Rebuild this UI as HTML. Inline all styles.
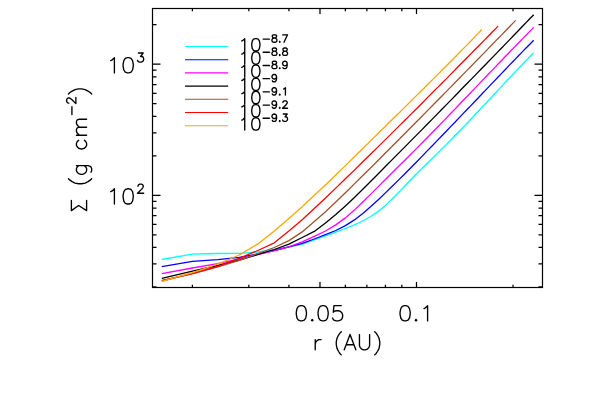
<!DOCTYPE html>
<html><head><meta charset="utf-8"><title>Surface density</title>
<style>html,body{margin:0;padding:0;background:#fff;font-family:"Liberation Sans",sans-serif}svg{display:block}</style>
</head><body>
<svg width="598" height="402" viewBox="0 0 598 402">
<rect x="0" y="0" width="598" height="402" fill="#fff"/>
<path d="M161.8 259.5 L192.4 254.2 L217.8 253.5 L239.3 253.3 L257.9 252.0 L274.3 249.5 L288.9 246.9 L302.2 244.4 L314.3 240.0 L325.5 236.0 L335.8 232.1 L345.4 228.5 L354.4 224.9 L362.8 221.0 L370.8 216.5 L378.3 211.4 L385.4 205.4 L392.2 199.0 L398.7 192.4 L404.9 185.9 L410.8 179.7 L416.5 173.8 L422.0 168.4 L427.2 163.3 L432.3 158.4 L437.2 153.6 L441.9 148.9 L446.5 144.4 L450.9 139.9 L455.2 135.5 L459.3 131.3 L463.3 127.1 L467.3 123.0 L471.1 119.0 L474.8 115.0 L478.4 111.2 L481.9 107.5 L485.4 103.8 L488.7 100.2 L492.0 96.7 L495.2 93.2 L498.3 89.9 L501.4 86.6 L504.4 83.4 L507.3 80.3 L510.2 77.3 L513.0 74.3 L515.8 71.4 L518.5 68.5 L521.1 65.8 L523.7 63.0 L526.3 60.4 L528.8 57.8 L531.3 55.3 L533.7 52.9" fill="none" stroke="#00ffff" stroke-width="1.30" stroke-linejoin="round"/>
<path d="M161.8 266.7 L192.4 261.3 L217.8 259.7 L239.3 257.4 L257.9 254.0 L274.3 250.5 L288.9 246.8 L302.2 243.4 L314.3 239.0 L325.5 234.7 L335.8 230.5 L345.4 225.6 L354.4 219.9 L362.8 213.4 L370.8 206.6 L378.3 199.7 L385.4 192.9 L392.2 186.3 L398.7 179.9 L404.9 173.7 L410.8 167.8 L416.5 162.0 L422.0 156.4 L427.2 150.9 L432.3 145.7 L437.2 140.6 L441.9 135.7 L446.5 131.0 L450.9 126.4 L455.2 122.0 L459.3 117.6 L463.3 113.4 L467.3 109.3 L471.1 105.4 L474.8 101.5 L478.4 97.7 L481.9 94.0 L485.4 90.4 L488.7 86.9 L492.0 83.4 L495.2 80.1 L498.3 76.8 L501.4 73.6 L504.4 70.5 L507.3 67.4 L510.2 64.4 L513.0 61.5 L515.8 58.6 L518.5 55.8 L521.1 53.1 L523.7 50.4 L526.3 47.8 L528.8 45.2 L531.3 42.7 L533.7 40.2" fill="none" stroke="#0000ff" stroke-width="1.30" stroke-linejoin="round"/>
<path d="M161.8 273.6 L192.4 268.0 L217.8 263.6 L239.3 258.9 L257.9 254.6 L274.3 250.6 L288.9 246.9 L302.2 241.9 L314.3 236.4 L325.5 231.0 L335.8 224.9 L345.4 217.9 L354.4 210.1 L362.8 202.0 L370.8 194.1 L378.3 186.6 L385.4 179.5 L392.2 172.8 L398.7 166.3 L404.9 160.2 L410.8 154.3 L416.5 148.6 L422.0 143.0 L427.2 137.7 L432.3 132.5 L437.2 127.5 L441.9 122.6 L446.5 117.9 L450.9 113.3 L455.2 108.9 L459.3 104.5 L463.3 100.3 L467.3 96.3 L471.1 92.3 L474.8 88.4 L478.4 84.6 L481.9 80.9 L485.4 77.3 L488.7 73.8 L492.0 70.4 L495.2 67.1 L498.3 63.8 L501.4 60.7 L504.4 57.5 L507.3 54.5 L510.2 51.5 L513.0 48.6 L515.8 45.8 L518.5 43.0 L521.1 40.2 L523.7 37.6 L526.3 35.0 L528.8 32.4 L531.3 29.9 L533.7 27.4" fill="none" stroke="#ff00ff" stroke-width="1.30" stroke-linejoin="round"/>
<path d="M161.8 278.4 L192.4 271.1 L217.8 265.5 L239.3 260.2 L257.9 254.5 L274.3 249.5 L288.9 244.1 L302.2 237.5 L314.3 231.4 L325.5 223.0 L335.8 214.6 L345.4 206.0 L354.4 197.5 L362.8 189.2 L370.8 181.3 L378.3 173.7 L385.4 166.5 L392.2 159.6 L398.7 153.1 L404.9 146.9 L410.8 140.9 L416.5 135.1 L422.0 129.6 L427.2 124.2 L432.3 119.1 L437.2 114.1 L441.9 109.3 L446.5 104.6 L450.9 100.1 L455.2 95.7 L459.3 91.5 L463.3 87.3 L467.3 83.3 L471.1 79.4 L474.8 75.6 L478.4 71.9 L481.9 68.3 L485.4 64.7 L488.7 61.3 L492.0 57.9 L495.2 54.6 L498.3 51.4 L501.4 48.2 L504.4 45.1 L507.3 42.1 L510.2 39.1 L513.0 36.2 L515.8 33.3 L518.5 30.5 L521.1 27.7 L523.7 25.0 L526.3 22.4 L528.8 19.8 L531.3 17.2 L533.7 14.7" fill="none" stroke="#000000" stroke-width="1.30" stroke-linejoin="round"/>
<path d="M161.8 280.3 L192.4 273.8 L217.8 266.9 L239.3 260.3 L257.9 253.5 L274.3 247.5 L288.9 240.6 L302.2 231.9 L314.3 221.6 L325.5 211.8 L335.8 202.0 L345.4 192.7 L354.4 183.9 L362.8 175.5 L370.8 167.7 L378.3 160.2 L385.4 153.0 L392.2 146.2 L398.7 139.7 L404.9 133.5 L410.8 127.5 L416.5 121.8 L422.0 116.3 L427.2 110.9 L432.3 105.8 L437.2 100.8 L441.9 96.0 L446.5 91.4 L450.9 86.9 L455.2 82.5 L459.3 78.3 L463.3 74.1 L467.3 70.1 L471.1 66.2 L474.8 62.4 L478.4 58.7 L481.9 55.1 L485.4 51.6 L488.7 48.1 L492.0 44.7 L495.2 41.4 L498.3 38.2 L501.4 35.1 L504.4 32.0 L507.3 29.0 L510.2 26.0 L513.0 23.1 L515.7 20.4" fill="none" stroke="#a0522d" stroke-width="1.30" stroke-linejoin="round"/>
<path d="M161.8 281.0 L192.4 273.4 L217.8 266.3 L239.3 258.3 L257.9 250.5 L274.3 242.8 L288.9 231.1 L302.2 219.7 L314.3 208.6 L325.5 198.0 L335.8 188.1 L345.4 178.8 L354.4 170.1 L362.8 161.8 L370.8 154.0 L378.3 146.6 L385.4 139.6 L392.2 132.9 L398.7 126.4 L404.9 120.3 L410.8 114.4 L416.5 108.7 L422.0 103.2 L427.2 97.9 L432.3 92.8 L437.2 87.9 L441.9 83.2 L446.5 78.6 L450.9 74.1 L455.2 69.8 L459.3 65.5 L463.3 61.5 L467.3 57.5 L471.1 53.6 L474.8 49.8 L478.4 46.2 L481.9 42.6 L485.4 39.1 L488.7 35.7 L492.0 32.3 L495.2 29.1 L498.1 26.1" fill="none" stroke="#ff0000" stroke-width="1.30" stroke-linejoin="round"/>
<path d="M161.8 281.4 L192.4 272.7 L217.8 264.2 L239.3 255.0 L257.9 243.9 L274.3 231.0 L288.9 218.5 L302.2 206.7 L314.3 195.2 L325.5 184.9 L335.8 175.0 L345.4 165.6 L354.4 156.8 L362.8 148.5 L370.8 140.6 L378.3 133.2 L385.4 126.2 L392.2 119.5 L398.7 113.2 L404.9 107.1 L410.8 101.2 L416.5 95.6 L422.0 90.2 L427.2 85.0 L432.3 79.9 L437.2 75.1 L441.9 70.3 L446.5 65.7 L450.9 61.3 L455.2 57.0 L459.3 52.7 L463.3 48.6 L467.3 44.6 L471.1 40.7 L474.8 36.9 L478.4 33.1 L481.9 29.5" fill="none" stroke="#ffa500" stroke-width="1.30" stroke-linejoin="round"/>
<rect x="152.5" y="8.5" width="390.0" height="279.0" fill="none" stroke="#000" stroke-width="1.20"/>
<path d="M192.41 287.50V284.70 M192.41 8.50V11.30 M248.87 287.50V284.70 M248.87 8.50V11.30 M288.92 287.50V284.70 M288.92 8.50V11.30 M319.99 287.50V281.90 M319.99 8.50V14.10 M345.38 287.50V284.70 M345.38 8.50V11.30 M366.84 287.50V284.70 M366.84 8.50V11.30 M385.43 287.50V284.70 M385.43 8.50V11.30 M401.83 287.50V284.70 M401.83 8.50V11.30 M416.50 287.50V281.90 M416.50 8.50V14.10 M513.01 287.50V284.70 M513.01 8.50V11.30 M152.50 286.93H156.50 M542.50 286.93H538.50 M152.50 263.85H156.50 M542.50 263.85H538.50 M152.50 247.47H156.50 M542.50 247.47H538.50 M152.50 234.77H156.50 M542.50 234.77H538.50 M152.50 224.38H156.50 M542.50 224.38H538.50 M152.50 215.61H156.50 M542.50 215.61H538.50 M152.50 208.00H156.50 M542.50 208.00H538.50 M152.50 201.30H156.50 M542.50 201.30H538.50 M152.50 195.30H160.50 M542.50 195.30H534.50 M152.50 155.83H156.50 M542.50 155.83H538.50 M152.50 132.75H156.50 M542.50 132.75H538.50 M152.50 116.37H156.50 M542.50 116.37H538.50 M152.50 103.67H156.50 M542.50 103.67H538.50 M152.50 93.28H156.50 M542.50 93.28H538.50 M152.50 84.51H156.50 M542.50 84.51H538.50 M152.50 76.90H156.50 M542.50 76.90H538.50 M152.50 70.20H156.50 M542.50 70.20H538.50 M152.50 64.20H160.50 M542.50 64.20H534.50 M152.50 24.73H156.50 M542.50 24.73H538.50" fill="none" stroke="#000" stroke-width="1.25"/>
<path d="M300.64 305.67 L298.46 306.40 L297.01 308.57 L296.29 312.20 L296.29 314.38 L297.01 318.00 L298.46 320.17 L300.64 320.90 L302.09 320.90 L304.26 320.17 L305.71 318.00 L306.44 314.38 L306.44 312.20 L305.71 308.57 L304.26 306.40 L302.09 305.67 L300.64 305.67 M312.24 319.45 L311.51 320.17 L312.24 320.90 L312.96 320.17 L312.24 319.45 M322.39 305.67 L320.21 306.40 L318.76 308.57 L318.04 312.20 L318.04 314.38 L318.76 318.00 L320.21 320.17 L322.39 320.90 L323.84 320.90 L326.01 320.17 L327.46 318.00 L328.19 314.38 L328.19 312.20 L327.46 308.57 L326.01 306.40 L323.84 305.67 L322.39 305.67 M341.24 305.67 L333.99 305.67 L333.26 312.20 L333.99 311.47 L336.16 310.75 L338.34 310.75 L340.51 311.47 L341.96 312.92 L342.69 315.10 L342.69 316.55 L341.96 318.72 L340.51 320.17 L338.34 320.90 L336.16 320.90 L333.99 320.17 L333.26 319.45 L332.54 318.00 M404.40 305.67 L402.23 306.40 L400.77 308.57 L400.05 312.20 L400.05 314.38 L400.77 318.00 L402.23 320.17 L404.40 320.90 L405.85 320.90 L408.02 320.17 L409.48 318.00 L410.20 314.38 L410.20 312.20 L409.48 308.57 L408.02 306.40 L405.85 305.67 L404.40 305.67 M416.00 319.45 L415.27 320.17 L416.00 320.90 L416.73 320.17 L416.00 319.45 M423.98 308.57 L425.43 307.85 L427.60 305.67 L427.60 320.90 M315.24 339.65 L315.24 349.80 M315.24 344.00 L315.96 341.82 L317.41 340.38 L318.86 339.65 L321.04 339.65 M341.34 331.68 L339.89 333.12 L338.44 335.30 L336.99 338.20 L336.26 341.82 L336.26 344.73 L336.99 348.35 L338.44 351.25 L339.89 353.43 L341.34 354.88 M350.04 334.57 L344.24 349.80 M350.04 334.57 L355.84 349.80 M346.41 344.73 L353.66 344.73 M359.46 334.57 L359.46 345.45 L360.19 347.62 L361.64 349.07 L363.81 349.80 L365.26 349.80 L367.44 349.07 L368.89 347.62 L369.61 345.45 L369.61 334.57 M374.69 331.68 L376.14 333.12 L377.59 335.30 L379.04 338.20 L379.76 341.82 L379.76 344.73 L379.04 348.35 L377.59 351.25 L376.14 353.43 L374.69 354.88 M110.78 60.58 L112.23 59.85 L114.40 57.68 L114.40 72.90 M127.45 57.68 L125.28 58.40 L123.83 60.58 L123.10 64.20 L123.10 66.38 L123.83 70.00 L125.28 72.18 L127.45 72.90 L128.90 72.90 L131.08 72.18 L132.53 70.00 L133.25 66.38 L133.25 64.20 L132.53 60.58 L131.08 58.40 L128.90 57.68 L127.45 57.68 M138.42 52.96 L143.25 52.96 L140.61 56.47 L141.93 56.47 L142.81 56.91 L143.25 57.35 L143.68 58.66 L143.68 59.54 L143.25 60.85 L142.37 61.73 L141.05 62.17 L139.74 62.17 L138.42 61.73 L137.98 61.29 L137.54 60.42 M110.78 191.68 L112.23 190.95 L114.40 188.78 L114.40 204.00 M127.45 188.78 L125.28 189.50 L123.83 191.68 L123.10 195.30 L123.10 197.47 L123.83 201.10 L125.28 203.28 L127.45 204.00 L128.90 204.00 L131.08 203.28 L132.53 201.10 L133.25 197.47 L133.25 195.30 L132.53 191.68 L131.08 189.50 L128.90 188.78 L127.45 188.78 M137.98 186.25 L137.98 185.81 L138.42 184.94 L138.86 184.50 L139.74 184.06 L141.49 184.06 L142.37 184.50 L142.81 184.94 L143.25 185.81 L143.25 186.69 L142.81 187.57 L141.93 188.88 L137.54 193.27 L143.68 193.27" fill="none" stroke="#000" stroke-width="1.35" stroke-linecap="round" stroke-linejoin="round"/>
<path d="M-61.20 -15.22 L-56.13 -7.97 L-61.20 0.00 M-61.20 -15.22 L-51.05 -15.22 M-61.20 0.00 L-51.05 0.00 M-29.30 -18.12 L-30.75 -16.68 L-32.20 -14.50 L-33.65 -11.60 L-34.38 -7.97 L-34.38 -5.08 L-33.65 -1.45 L-32.20 1.45 L-30.75 3.62 L-29.30 5.08 M-16.25 -10.15 L-16.25 1.45 L-16.98 3.62 L-17.70 4.35 L-19.15 5.08 L-21.33 5.08 L-22.78 4.35 M-16.25 -7.97 L-17.70 -9.42 L-19.15 -10.15 L-21.33 -10.15 L-22.78 -9.42 L-24.23 -7.97 L-24.95 -5.80 L-24.95 -4.35 L-24.23 -2.17 L-22.78 -0.72 L-21.33 0.00 L-19.15 0.00 L-17.70 -0.72 L-16.25 -2.17 M9.12 -7.97 L7.67 -9.42 L6.22 -10.15 L4.05 -10.15 L2.60 -9.42 L1.15 -7.97 L0.42 -5.80 L0.42 -4.35 L1.15 -2.17 L2.60 -0.72 L4.05 0.00 L6.22 0.00 L7.67 -0.72 L9.12 -2.17 M14.20 -10.15 L14.20 0.00 M14.20 -7.25 L16.37 -9.42 L17.82 -10.15 L20.00 -10.15 L21.45 -9.42 L22.17 -7.25 L22.17 0.00 M22.17 -7.25 L24.35 -9.42 L25.80 -10.15 L27.97 -10.15 L29.42 -9.42 L30.15 -7.25 L30.15 0.00 M34.80 -14.68 L42.70 -14.68 M46.21 -17.75 L46.21 -18.19 L46.65 -19.06 L47.09 -19.50 L47.96 -19.94 L49.72 -19.94 L50.59 -19.50 L51.03 -19.06 L51.47 -18.19 L51.47 -17.31 L51.03 -16.43 L50.16 -15.12 L45.77 -10.73 L51.91 -10.73 M55.40 -18.12 L56.85 -16.68 L58.30 -14.50 L59.75 -11.60 L60.48 -7.97 L60.48 -5.08 L59.75 -1.45 L58.30 1.45 L56.85 3.62 L55.40 5.08" transform="translate(86.6 149.4) rotate(-90)" fill="none" stroke="#000" stroke-width="1.35" stroke-linecap="round" stroke-linejoin="round"/>
<path d="M185 46.50H228.2" stroke="#00ffff" stroke-width="1.10" fill="none"/>
<path d="M185 59.70H228.2" stroke="#0000ff" stroke-width="1.10" fill="none"/>
<path d="M185 72.90H228.2" stroke="#ff00ff" stroke-width="1.10" fill="none"/>
<path d="M185 86.10H228.2" stroke="#000000" stroke-width="1.10" fill="none"/>
<path d="M185 99.30H228.2" stroke="#a0522d" stroke-width="1.10" fill="none"/>
<path d="M185 112.50H228.2" stroke="#ff0000" stroke-width="1.10" fill="none"/>
<path d="M185 125.70H228.2" stroke="#ffa500" stroke-width="1.10" fill="none"/>
<path d="M241.81 40.95 L242.98 40.37 L244.74 38.61 L244.74 50.90 M255.26 38.61 L253.51 39.20 L252.34 40.95 L251.75 43.88 L251.75 45.63 L252.34 48.56 L253.51 50.31 L255.26 50.90 L256.44 50.90 L258.19 50.31 L259.36 48.56 L259.94 45.63 L259.94 43.88 L259.36 40.95 L258.19 39.20 L256.44 38.61 L255.26 38.61 M263.12 39.06 L269.49 39.06 M273.73 34.81 L272.67 35.16 L272.32 35.87 L272.32 36.58 L272.67 37.29 L273.38 37.64 L274.80 37.99 L275.86 38.35 L276.56 39.06 L276.92 39.76 L276.92 40.83 L276.56 41.53 L276.21 41.89 L275.15 42.24 L273.73 42.24 L272.67 41.89 L272.32 41.53 L271.96 40.83 L271.96 39.76 L272.32 39.06 L273.03 38.35 L274.09 37.99 L275.50 37.64 L276.21 37.29 L276.56 36.58 L276.56 35.87 L276.21 35.16 L275.15 34.81 L273.73 34.81 M279.75 41.53 L279.40 41.89 L279.75 42.24 L280.10 41.89 L279.75 41.53 M287.54 34.81 L284.00 42.24 M282.58 34.81 L287.54 34.81 M241.81 54.16 L242.98 53.57 L244.74 51.82 L244.74 64.10 M255.26 51.82 L253.51 52.40 L252.34 54.16 L251.75 57.08 L251.75 58.84 L252.34 61.76 L253.51 63.52 L255.26 64.10 L256.44 64.10 L258.19 63.52 L259.36 61.76 L259.94 58.84 L259.94 57.08 L259.36 54.16 L258.19 52.40 L256.44 51.82 L255.26 51.82 M263.12 52.26 L269.49 52.26 M273.73 48.01 L272.67 48.36 L272.32 49.07 L272.32 49.78 L272.67 50.49 L273.38 50.84 L274.80 51.19 L275.86 51.55 L276.56 52.26 L276.92 52.96 L276.92 54.03 L276.56 54.73 L276.21 55.09 L275.15 55.44 L273.73 55.44 L272.67 55.09 L272.32 54.73 L271.96 54.03 L271.96 52.96 L272.32 52.26 L273.03 51.55 L274.09 51.19 L275.50 50.84 L276.21 50.49 L276.56 49.78 L276.56 49.07 L276.21 48.36 L275.15 48.01 L273.73 48.01 M279.75 54.73 L279.40 55.09 L279.75 55.44 L280.10 55.09 L279.75 54.73 M284.35 48.01 L283.29 48.36 L282.94 49.07 L282.94 49.78 L283.29 50.49 L284.00 50.84 L285.41 51.19 L286.47 51.55 L287.18 52.26 L287.54 52.96 L287.54 54.03 L287.18 54.73 L286.83 55.09 L285.77 55.44 L284.35 55.44 L283.29 55.09 L282.94 54.73 L282.58 54.03 L282.58 52.96 L282.94 52.26 L283.64 51.55 L284.71 51.19 L286.12 50.84 L286.83 50.49 L287.18 49.78 L287.18 49.07 L286.83 48.36 L285.77 48.01 L284.35 48.01 M241.81 67.36 L242.98 66.77 L244.74 65.02 L244.74 77.30 M255.26 65.02 L253.51 65.60 L252.34 67.36 L251.75 70.28 L251.75 72.04 L252.34 74.96 L253.51 76.72 L255.26 77.30 L256.44 77.30 L258.19 76.72 L259.36 74.96 L259.94 72.04 L259.94 70.28 L259.36 67.36 L258.19 65.60 L256.44 65.02 L255.26 65.02 M263.12 65.46 L269.49 65.46 M273.73 61.21 L272.67 61.56 L272.32 62.27 L272.32 62.98 L272.67 63.69 L273.38 64.04 L274.80 64.39 L275.86 64.75 L276.56 65.46 L276.92 66.16 L276.92 67.23 L276.56 67.93 L276.21 68.29 L275.15 68.64 L273.73 68.64 L272.67 68.29 L272.32 67.93 L271.96 67.23 L271.96 66.16 L272.32 65.46 L273.03 64.75 L274.09 64.39 L275.50 64.04 L276.21 63.69 L276.56 62.98 L276.56 62.27 L276.21 61.56 L275.15 61.21 L273.73 61.21 M279.75 67.93 L279.40 68.29 L279.75 68.64 L280.10 68.29 L279.75 67.93 M287.18 63.69 L286.83 64.75 L286.12 65.46 L285.06 65.81 L284.71 65.81 L283.64 65.46 L282.94 64.75 L282.58 63.69 L282.58 63.33 L282.94 62.27 L283.64 61.56 L284.71 61.21 L285.06 61.21 L286.12 61.56 L286.83 62.27 L287.18 63.69 L287.18 65.46 L286.83 67.23 L286.12 68.29 L285.06 68.64 L284.35 68.64 L283.29 68.29 L282.94 67.58 M241.81 80.56 L242.98 79.97 L244.74 78.22 L244.74 90.50 M255.26 78.22 L253.51 78.80 L252.34 80.56 L251.75 83.48 L251.75 85.23 L252.34 88.16 L253.51 89.92 L255.26 90.50 L256.44 90.50 L258.19 89.92 L259.36 88.16 L259.94 85.23 L259.94 83.48 L259.36 80.56 L258.19 78.80 L256.44 78.22 L255.26 78.22 M263.12 78.66 L269.49 78.66 M276.56 76.89 L276.21 77.95 L275.50 78.66 L274.44 79.01 L274.09 79.01 L273.03 78.66 L272.32 77.95 L271.96 76.89 L271.96 76.53 L272.32 75.47 L273.03 74.76 L274.09 74.41 L274.44 74.41 L275.50 74.76 L276.21 75.47 L276.56 76.89 L276.56 78.66 L276.21 80.43 L275.50 81.49 L274.44 81.84 L273.73 81.84 L272.67 81.49 L272.32 80.78 M241.81 93.75 L242.98 93.17 L244.74 91.42 L244.74 103.70 M255.26 91.42 L253.51 92.00 L252.34 93.75 L251.75 96.68 L251.75 98.44 L252.34 101.36 L253.51 103.12 L255.26 103.70 L256.44 103.70 L258.19 103.12 L259.36 101.36 L259.94 98.44 L259.94 96.68 L259.36 93.75 L258.19 92.00 L256.44 91.42 L255.26 91.42 M263.12 91.86 L269.49 91.86 M276.56 90.09 L276.21 91.15 L275.50 91.86 L274.44 92.21 L274.09 92.21 L273.03 91.86 L272.32 91.15 L271.96 90.09 L271.96 89.73 L272.32 88.67 L273.03 87.96 L274.09 87.61 L274.44 87.61 L275.50 87.96 L276.21 88.67 L276.56 90.09 L276.56 91.86 L276.21 93.63 L275.50 94.69 L274.44 95.04 L273.73 95.04 L272.67 94.69 L272.32 93.98 M279.75 94.33 L279.40 94.69 L279.75 95.04 L280.10 94.69 L279.75 94.33 M283.64 89.03 L284.35 88.67 L285.41 87.61 L285.41 95.04 M241.81 106.96 L242.98 106.37 L244.74 104.62 L244.74 116.90 M255.26 104.62 L253.51 105.20 L252.34 106.96 L251.75 109.88 L251.75 111.64 L252.34 114.56 L253.51 116.32 L255.26 116.90 L256.44 116.90 L258.19 116.32 L259.36 114.56 L259.94 111.64 L259.94 109.88 L259.36 106.96 L258.19 105.20 L256.44 104.62 L255.26 104.62 M263.12 105.06 L269.49 105.06 M276.56 103.29 L276.21 104.35 L275.50 105.06 L274.44 105.41 L274.09 105.41 L273.03 105.06 L272.32 104.35 L271.96 103.29 L271.96 102.93 L272.32 101.87 L273.03 101.16 L274.09 100.81 L274.44 100.81 L275.50 101.16 L276.21 101.87 L276.56 103.29 L276.56 105.06 L276.21 106.83 L275.50 107.89 L274.44 108.24 L273.73 108.24 L272.67 107.89 L272.32 107.18 M279.75 107.53 L279.40 107.89 L279.75 108.24 L280.10 107.89 L279.75 107.53 M282.94 102.58 L282.94 102.23 L283.29 101.52 L283.64 101.16 L284.35 100.81 L285.77 100.81 L286.47 101.16 L286.83 101.52 L287.18 102.23 L287.18 102.93 L286.83 103.64 L286.12 104.70 L282.58 108.24 L287.54 108.24 M241.81 120.16 L242.98 119.57 L244.74 117.81 L244.74 130.10 M255.26 117.81 L253.51 118.40 L252.34 120.16 L251.75 123.08 L251.75 124.83 L252.34 127.76 L253.51 129.51 L255.26 130.10 L256.44 130.10 L258.19 129.51 L259.36 127.76 L259.94 124.83 L259.94 123.08 L259.36 120.16 L258.19 118.40 L256.44 117.81 L255.26 117.81 M263.12 118.26 L269.49 118.26 M276.56 116.49 L276.21 117.55 L275.50 118.26 L274.44 118.61 L274.09 118.61 L273.03 118.26 L272.32 117.55 L271.96 116.49 L271.96 116.13 L272.32 115.07 L273.03 114.36 L274.09 114.01 L274.44 114.01 L275.50 114.36 L276.21 115.07 L276.56 116.49 L276.56 118.26 L276.21 120.03 L275.50 121.09 L274.44 121.44 L273.73 121.44 L272.67 121.09 L272.32 120.38 M279.75 120.73 L279.40 121.09 L279.75 121.44 L280.10 121.09 L279.75 120.73 M283.29 114.01 L287.18 114.01 L285.06 116.84 L286.12 116.84 L286.83 117.19 L287.18 117.55 L287.54 118.61 L287.54 119.32 L287.18 120.38 L286.47 121.09 L285.41 121.44 L284.35 121.44 L283.29 121.09 L282.94 120.73 L282.58 120.03" fill="none" stroke="#000" stroke-width="1.35" stroke-linecap="round" stroke-linejoin="round"/>
</svg>
</body></html>
